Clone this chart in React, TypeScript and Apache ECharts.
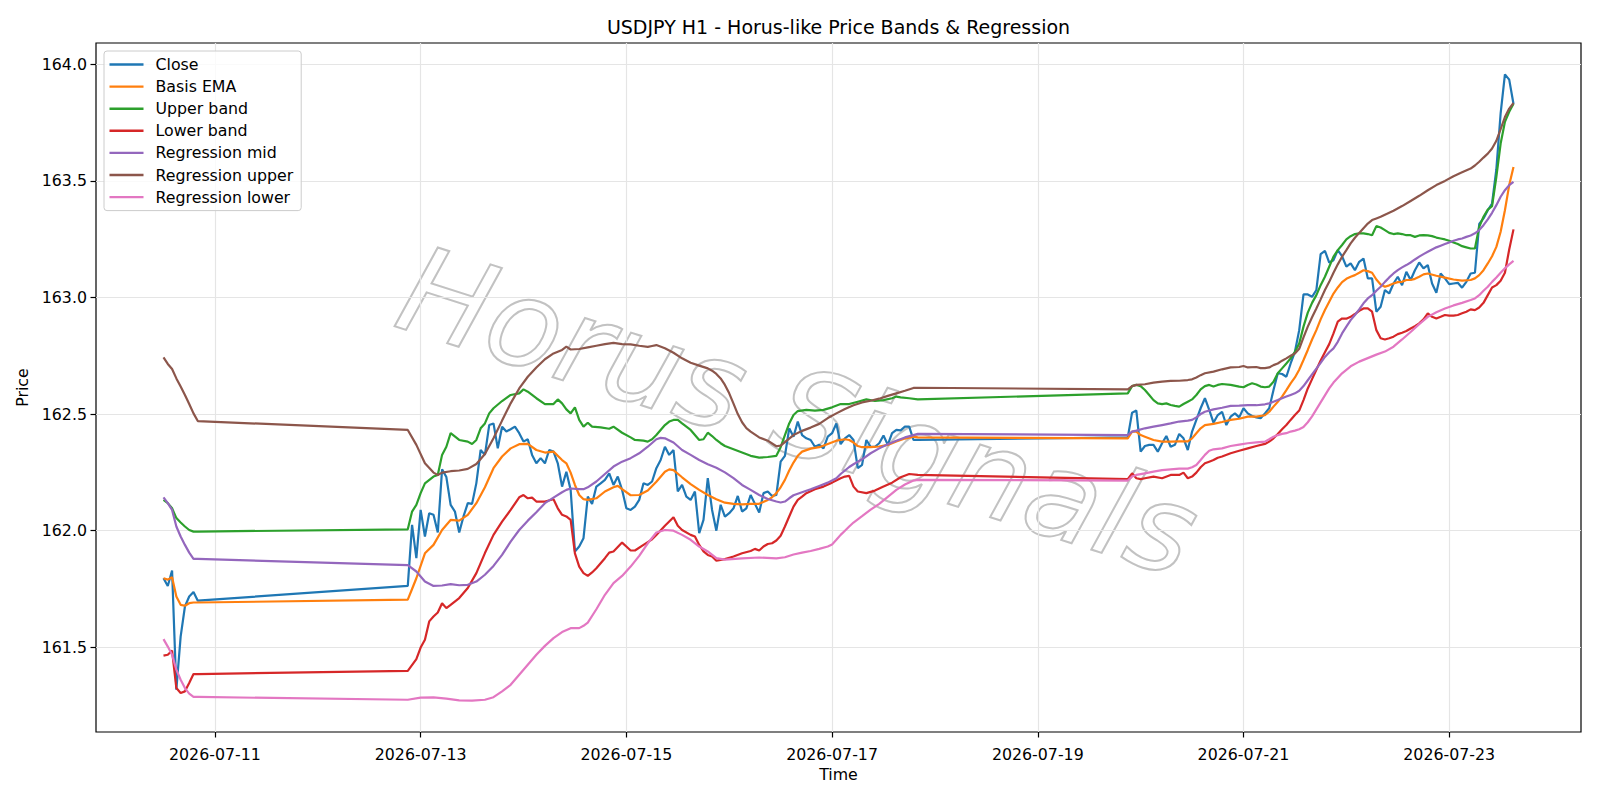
import React, { useEffect, useRef } from "react";
import * as echarts from "echarts";

// Trading sessions: start (UTC) and number of hourly bars
const sessions: [string, number][] = [
  ["2026-07-10T12:00:00Z", 9],
  ["2026-07-12T21:00:00Z", 120],
  ["2026-07-19T21:00:00Z", 91],
];

const xTickLabels = ["2026-07-11", "2026-07-13", "2026-07-15", "2026-07-17", "2026-07-19", "2026-07-21", "2026-07-23"];
const yTickValues = [161.5, 162.0, 162.5, 163.0, 163.5, 164.0];

// Close, hourly, all sessions in order
const close: number[] = [
  161.796, 161.763, 161.829, 161.318, 161.546, 161.675, 161.718, 161.737, 161.700,
  161.763, 162.025, 161.882, 162.089, 161.975, 162.075, 162.068, 161.992, 162.263, 162.230,
  162.111, 162.082, 161.992, 162.061, 162.118, 162.115, 162.204, 162.346, 162.325, 162.453,
  162.460, 162.353, 162.446, 162.425, 162.435, 162.446, 162.418, 162.382, 162.392, 162.325,
  162.289, 162.311, 162.289, 162.346, 162.339, 162.289, 162.189, 162.253, 162.175, 161.911,
  161.932, 161.968, 162.146, 162.115, 162.189, 162.203, 162.218, 162.246, 162.196, 162.232,
  162.175, 162.096, 162.089, 162.103, 162.132, 162.203, 162.196, 162.211, 162.268, 162.303,
  162.360, 162.325, 162.346, 162.168, 162.196, 162.146, 162.132, 162.168, 161.989, 162.046,
  162.225, 162.089, 162.000, 162.111, 162.060, 162.075, 162.096, 162.149, 162.082, 162.096,
  162.153, 162.115, 162.078, 162.161, 162.168, 162.149, 162.153, 162.296, 162.321, 162.439,
  162.403, 162.468, 162.410, 162.396, 162.389, 162.360, 162.368, 162.353, 162.403, 162.418,
  162.460, 162.371, 162.396, 162.410, 162.389, 162.268, 162.282, 162.389, 162.360, 162.360,
  162.375, 162.408, 162.368, 162.418, 162.432, 162.430, 162.446, 162.446, 162.389, 162.389,
  162.400, 162.506, 162.515, 162.339, 162.363, 162.368, 162.368, 162.339, 162.375, 162.406,
  162.360, 162.368, 162.415, 162.396, 162.346, 162.425, 162.475, 162.525, 162.568, 162.518,
  162.463, 162.496, 162.510, 162.453, 162.489, 162.503, 162.486, 162.525, 162.503, 162.492,
  162.486, 162.482, 162.503, 162.525, 162.603, 162.675, 162.672, 162.660, 162.717, 162.767,
  162.860, 163.013, 163.013, 163.003, 163.032, 163.186, 163.200, 163.150, 163.160, 163.203,
  163.177, 163.132, 163.146, 163.117, 163.153, 163.167, 163.082, 163.082, 162.939, 162.960,
  163.032, 163.017, 163.060, 163.089, 163.053, 163.110, 163.075, 163.117, 163.150, 163.125,
  163.139, 163.060, 163.020, 163.103, 163.082, 163.057, 163.060, 163.063, 163.042, 163.067,
  163.103, 163.106, 163.315, 163.339, 163.374, 163.403, 163.550, 163.790, 163.957, 163.934,
  163.830,
];

// [session, hour within session, price]
type P = [number, number, number];

const basisEma: P[] = [
  [0,0,161.796],[0,1,161.790],[0,2,161.800],[0,3,161.718],[0,4,161.682],[0,5,161.678],[0,6,161.689],[0,7,161.692],[0,8,161.692],
  [1,0,161.704],[1,1,161.750],[1,2,161.796],[1,4,161.903],[1,6,161.939],[1,8,162.003],[1,10,162.046],[1,12,162.043],[1,14,162.068],
  [1,16,162.118],[1,18,162.186],[1,20,162.268],[1,22,162.318],[1,24,162.353],[1,26,162.371],[1,28,162.372],[1,30,162.346],
  [1,32,162.335],[1,34,162.339],[1,36,162.303],[1,37,162.289],[1,38,162.249],[1,39,162.196],[1,40,162.153],[1,41,162.135],
  [1,42,162.132],[1,44,162.139],[1,46,162.168],[1,48,162.186],[1,49,162.192],[1,50,162.178],[1,52,162.152],[1,54,162.153],
  [1,56,162.172],[1,58,162.210],[1,60,162.253],[1,61,162.263],[1,62,162.260],[1,64,162.229],[1,66,162.200],[1,68,162.175],
  [1,70,162.153],[1,72,162.135],[1,74,162.120],[1,76,162.115],[1,78,162.113],[1,80,162.115],[1,82,162.115],[1,84,162.132],
  [1,85,162.143],[1,86,162.161],[1,87,162.186],[1,88,162.218],[1,89,162.258],[1,90,162.292],[1,91,162.321],[1,92,162.339],
  [1,94,162.352],[1,96,162.358],[1,98,162.372],[1,100,162.386],[1,102,162.392],[1,103,162.389],[1,104,162.378],[1,105,162.363],
  [1,106,162.358],[1,108,162.358],[1,110,162.361],[1,112,162.368],[1,114,162.383],[1,116,162.395],[1,118,162.403],[1,119,162.400],
  [2,0,162.396],[2,1,162.425],[2,2,162.425],[2,3,162.410],[2,4,162.403],[2,6,162.389],[2,8,162.382],[2,10,162.382],[2,12,162.383],
  [2,14,162.383],[2,15,162.396],[2,16,162.418],[2,17,162.439],[2,18,162.453],[2,20,162.458],[2,22,162.466],[2,24,162.475],
  [2,26,162.480],[2,28,162.489],[2,30,162.489],[2,32,162.495],[2,33,162.510],[2,34,162.532],[2,35,162.553],[2,36,162.575],
  [2,37,162.603],[2,38,162.632],[2,39,162.657],[2,40,162.690],[2,41,162.732],[2,42,162.775],[2,43,162.820],[2,44,162.860],
  [2,45,162.906],[2,46,162.946],[2,47,162.982],[2,48,163.017],[2,49,163.043],[2,50,163.066],[2,51,163.080],[2,52,163.089],
  [2,53,163.096],[2,54,163.106],[2,55,163.117],[2,56,163.113],[2,57,163.106],[2,58,163.077],[2,59,163.056],[2,60,163.046],
  [2,61,163.052],[2,62,163.060],[2,63,163.066],[2,64,163.067],[2,65,163.075],[2,66,163.075],[2,67,163.080],[2,68,163.089],
  [2,69,163.099],[2,70,163.103],[2,72,163.093],[2,74,163.085],[2,76,163.077],[2,78,163.072],[2,80,163.075],[2,81,163.082],
  [2,82,163.096],[2,83,163.117],[2,84,163.146],[2,85,163.177],[2,86,163.217],[2,87,163.282],[2,88,163.374],[2,89,163.482],[2,90,163.560],
];

const upperBand: P[] = [
  [0,0,162.132],[0,1,162.118],[0,2,162.096],[0,3,162.054],[0,4,162.035],[0,5,162.018],[0,6,162.003],[0,7,161.996],[0,8,161.996],
  [1,0,162.006],[1,1,162.082],[1,2,162.111],[1,3,162.161],[1,4,162.203],[1,6,162.232],[1,7,162.239],[1,8,162.325],[1,9,162.360],
  [1,10,162.418],[1,12,162.389],[1,14,162.382],[1,15,162.372],[1,16,162.389],[1,17,162.439],[1,18,162.460],[1,19,162.503],
  [1,20,162.525],[1,22,162.556],[1,24,162.582],[1,26,162.589],[1,27,162.606],[1,28,162.596],[1,30,162.568],[1,32,162.543],
  [1,34,162.543],[1,35,162.563],[1,36,162.546],[1,37,162.520],[1,38,162.503],[1,39,162.529],[1,40,162.475],[1,41,162.446],
  [1,42,162.463],[1,43,162.446],[1,45,162.443],[1,47,162.437],[1,48,162.446],[1,50,162.420],[1,52,162.400],[1,53,162.389],
  [1,55,162.386],[1,56,162.382],[1,57,162.392],[1,58,162.410],[1,59,162.432],[1,60,162.453],[1,61,162.468],[1,62,162.475],
  [1,63,162.475],[1,64,162.460],[1,66,162.432],[1,68,162.389],[1,69,162.392],[1,70,162.420],[1,71,162.406],[1,72,162.389],
  [1,73,162.375],[1,74,162.363],[1,76,162.349],[1,78,162.335],[1,80,162.321],[1,82,162.313],[1,84,162.316],[1,86,162.321],
  [1,87,162.358],[1,88,162.410],[1,89,162.460],[1,90,162.496],[1,91,162.513],[1,93,162.518],[1,95,162.515],[1,97,162.518],
  [1,99,162.529],[1,101,162.543],[1,103,162.543],[1,105,162.553],[1,107,162.563],[1,109,162.556],[1,111,162.560],[1,113,162.568],
  [1,114,162.575],[1,115,162.572],[1,117,162.568],[1,119,162.563],
  [2,0,162.589],[2,1,162.620],[2,2,162.625],[2,3,162.620],[2,4,162.603],[2,5,162.582],[2,6,162.560],[2,7,162.546],[2,8,162.543],
  [2,9,162.546],[2,10,162.539],[2,11,162.535],[2,12,162.532],[2,13,162.543],[2,14,162.553],[2,15,162.563],[2,16,162.582],
  [2,17,162.606],[2,18,162.620],[2,19,162.625],[2,20,162.618],[2,21,162.625],[2,22,162.629],[2,24,162.625],[2,26,162.618],
  [2,27,162.615],[2,28,162.625],[2,29,162.632],[2,30,162.627],[2,31,162.618],[2,32,162.615],[2,33,162.618],[2,34,162.639],
  [2,35,162.675],[2,36,162.696],[2,37,162.717],[2,38,162.739],[2,39,162.767],[2,40,162.803],[2,41,162.875],[2,42,162.935],
  [2,43,162.977],[2,44,163.010],[2,45,163.053],[2,46,163.089],[2,47,163.132],[2,48,163.175],[2,49,163.203],[2,50,163.225],
  [2,51,163.249],[2,52,163.263],[2,53,163.272],[2,54,163.275],[2,55,163.275],[2,56,163.272],[2,57,163.267],[2,58,163.306],
  [2,59,163.300],[2,60,163.289],[2,61,163.277],[2,62,163.272],[2,63,163.275],[2,64,163.272],[2,65,163.267],[2,66,163.267],
  [2,67,163.260],[2,68,163.266],[2,69,163.267],[2,70,163.266],[2,71,163.263],[2,72,163.257],[2,73,163.253],[2,74,163.249],
  [2,75,163.243],[2,76,163.236],[2,77,163.229],[2,78,163.220],[2,79,163.215],[2,80,163.210],[2,81,163.210],[2,82,163.303],
  [2,83,163.346],[2,84,163.377],[2,85,163.392],[2,86,163.517],[2,87,163.660],[2,88,163.753],[2,89,163.796],[2,90,163.831],
];

const lowerBand: P[] = [
  [0,0,161.464],[0,1,161.468],[0,2,161.486],[0,3,161.325],[0,4,161.304],[0,5,161.311],[0,6,161.347],[0,7,161.385],[0,8,161.385],
  [1,0,161.399],[1,2,161.449],[1,3,161.499],[1,4,161.532],[1,5,161.611],[1,6,161.632],[1,7,161.649],[1,8,161.689],[1,9,161.668],
  [1,10,161.682],[1,12,161.711],[1,14,161.754],[1,16,161.818],[1,18,161.904],[1,20,161.982],[1,22,162.039],[1,24,162.089],
  [1,26,162.143],[1,27,162.153],[1,28,162.139],[1,29,162.142],[1,30,162.125],[1,32,162.125],[1,34,162.135],[1,35,162.096],
  [1,36,162.068],[1,37,162.061],[1,38,162.046],[1,39,161.903],[1,40,161.846],[1,41,161.818],[1,42,161.806],[1,43,161.821],
  [1,44,161.839],[1,46,161.882],[1,47,161.906],[1,48,161.911],[1,50,161.949],[1,51,161.932],[1,52,161.915],[1,53,161.915],
  [1,55,161.939],[1,57,161.963],[1,58,161.982],[1,60,162.021],[1,62,162.058],[1,63,162.021],[1,64,162.003],[1,66,161.982],
  [1,67,161.975],[1,68,161.939],[1,69,161.911],[1,70,161.896],[1,71,161.889],[1,72,161.871],[1,73,161.875],[1,74,161.878],
  [1,76,161.889],[1,78,161.903],[1,80,161.913],[1,81,161.922],[1,82,161.915],[1,83,161.932],[1,84,161.943],[1,85,161.946],
  [1,86,161.958],[1,87,161.978],[1,88,162.018],[1,89,162.061],[1,90,162.103],[1,91,162.132],[1,92,162.146],[1,93,162.161],
  [1,95,162.178],[1,97,162.189],[1,99,162.206],[1,101,162.225],[1,102,162.232],[1,103,162.235],[1,104,162.189],[1,105,162.168],
  [1,107,162.161],[1,109,162.172],[1,111,162.189],[1,113,162.206],[1,115,162.229],[1,117,162.243],[1,119,162.239],
  [2,0,162.221],[2,1,162.246],[2,2,162.225],[2,3,162.221],[2,4,162.225],[2,6,162.232],[2,8,162.225],[2,10,162.239],[2,12,162.239],
  [2,13,162.249],[2,14,162.225],[2,15,162.232],[2,16,162.249],[2,17,162.272],[2,18,162.289],[2,19,162.296],[2,20,162.303],
  [2,21,162.313],[2,22,162.318],[2,24,162.332],[2,26,162.343],[2,28,162.353],[2,30,162.363],[2,32,162.372],[2,33,162.382],
  [2,34,162.396],[2,35,162.415],[2,36,162.435],[2,37,162.453],[2,38,162.475],[2,39,162.496],[2,40,162.515],[2,41,162.560],
  [2,42,162.610],[2,43,162.650],[2,44,162.690],[2,45,162.730],[2,46,162.765],[2,47,162.800],[2,48,162.846],[2,49,162.896],
  [2,50,162.910],[2,51,162.909],[2,52,162.917],[2,53,162.929],[2,54,162.943],[2,55,162.953],[2,56,162.953],[2,57,162.939],
  [2,58,162.860],[2,59,162.825],[2,60,162.820],[2,61,162.825],[2,62,162.832],[2,63,162.843],[2,64,162.849],[2,65,162.856],
  [2,66,162.867],[2,67,162.877],[2,68,162.889],[2,69,162.906],[2,70,162.932],[2,71,162.917],[2,72,162.910],[2,73,162.917],
  [2,74,162.925],[2,75,162.922],[2,76,162.922],[2,77,162.925],[2,78,162.932],[2,79,162.939],[2,80,162.949],[2,81,162.946],
  [2,82,162.957],[2,83,162.977],[2,84,163.010],[2,85,163.043],[2,86,163.053],[2,87,163.072],[2,88,163.106],[2,89,163.206],[2,90,163.292],
];

const regMid: P[] = [
  [0,0,162.143],[0,1,162.118],[0,2,162.089],[0,3,162.018],[0,4,161.975],[0,5,161.939],[0,6,161.906],[0,7,161.879],[0,8,161.879],
  [1,0,161.852],[1,2,161.825],[1,4,161.782],[1,6,161.763],[1,8,161.765],[1,10,161.771],[1,12,161.766],[1,14,161.768],[1,16,161.782],
  [1,18,161.811],[1,20,161.849],[1,22,161.896],[1,24,161.953],[1,26,162.003],[1,28,162.043],[1,30,162.079],[1,32,162.118],
  [1,34,162.142],[1,36,162.165],[1,37,162.175],[1,38,162.181],[1,40,162.178],[1,41,162.178],[1,42,162.186],[1,44,162.211],
  [1,46,162.243],[1,48,162.275],[1,50,162.296],[1,52,162.311],[1,54,162.332],[1,56,162.360],[1,58,162.392],[1,59,162.398],
  [1,60,162.396],[1,62,162.378],[1,64,162.346],[1,66,162.325],[1,68,162.303],[1,70,162.285],[1,72,162.270],[1,74,162.250],
  [1,76,162.225],[1,78,162.196],[1,80,162.175],[1,82,162.153],[1,84,162.136],[1,86,162.125],[1,87,162.121],[1,88,162.125],
  [1,89,162.139],[1,90,162.152],[1,92,162.165],[1,94,162.178],[1,96,162.192],[1,98,162.206],[1,100,162.225],[1,101,162.243],
  [1,102,162.258],[1,103,162.273],[1,104,162.285],[1,106,162.306],[1,108,162.332],[1,110,162.353],[1,112,162.371],[1,114,162.386],
  [1,116,162.400],[1,118,162.410],[1,119,162.415],
  [2,0,162.410],[2,1,162.425],[2,2,162.429],[2,4,162.439],[2,6,162.446],[2,8,162.453],[2,10,162.460],[2,12,162.468],[2,14,162.472],
  [2,15,162.475],[2,16,162.486],[2,17,162.500],[2,18,162.510],[2,20,162.520],[2,22,162.527],[2,24,162.535],[2,26,162.536],
  [2,28,162.538],[2,30,162.538],[2,32,162.542],[2,33,162.546],[2,34,162.553],[2,35,162.560],[2,36,162.568],[2,37,162.575],
  [2,38,162.582],[2,39,162.589],[2,40,162.600],[2,41,162.620],[2,42,162.645],[2,43,162.670],[2,44,162.695],[2,45,162.720],
  [2,46,162.745],[2,47,162.765],[2,48,162.782],[2,49,162.810],[2,50,162.846],[2,51,162.875],[2,52,162.903],[2,53,162.925],
  [2,54,162.949],[2,55,162.975],[2,56,162.996],[2,57,163.010],[2,58,163.029],[2,59,163.046],[2,60,163.067],[2,61,163.086],
  [2,62,163.103],[2,63,163.117],[2,64,163.129],[2,65,163.139],[2,66,163.150],[2,67,163.163],[2,68,163.175],[2,69,163.186],
  [2,70,163.196],[2,71,163.206],[2,72,163.215],[2,73,163.222],[2,74,163.229],[2,75,163.236],[2,76,163.243],[2,77,163.249],
  [2,78,163.253],[2,79,163.260],[2,80,163.266],[2,81,163.275],[2,82,163.289],[2,83,163.310],[2,84,163.335],[2,85,163.363],
  [2,86,163.396],[2,87,163.432],[2,88,163.460],[2,89,163.482],[2,90,163.496],
];

const regUpper: P[] = [
  [0,0,162.743],[0,1,162.715],[0,2,162.693],[0,3,162.653],[0,4,162.618],[0,5,162.582],[0,6,162.543],[0,7,162.503],[0,8,162.470],
  [1,0,162.432],[1,2,162.368],[1,4,162.289],[1,6,162.249],[1,7,162.239],[1,8,162.249],[1,10,162.255],[1,12,162.258],[1,14,162.265],
  [1,16,162.286],[1,18,162.329],[1,20,162.396],[1,22,162.472],[1,24,162.546],[1,26,162.610],[1,28,162.660],[1,30,162.700],
  [1,32,162.735],[1,34,162.760],[1,36,162.775],[1,37,162.789],[1,38,162.777],[1,40,162.779],[1,42,162.786],[1,44,162.793],
  [1,46,162.800],[1,48,162.805],[1,50,162.800],[1,52,162.799],[1,54,162.793],[1,56,162.788],[1,57,162.792],[1,58,162.796],
  [1,60,162.782],[1,62,162.763],[1,64,162.739],[1,66,162.720],[1,68,162.708],[1,70,162.696],[1,71,162.686],[1,72,162.672],
  [1,73,162.653],[1,74,162.625],[1,75,162.589],[1,76,162.545],[1,77,162.500],[1,78,162.465],[1,79,162.440],[1,80,162.425],
  [1,82,162.400],[1,84,162.386],[1,86,162.362],[1,87,162.365],[1,88,162.380],[1,89,162.395],[1,90,162.410],[1,92,162.428],
  [1,94,162.442],[1,96,162.458],[1,98,162.483],[1,100,162.503],[1,102,162.522],[1,104,162.538],[1,106,162.550],[1,108,162.557],
  [1,110,162.566],[1,112,162.578],[1,114,162.589],[1,116,162.600],[1,118,162.612],[1,119,162.613],
  [2,0,162.606],[2,1,162.620],[2,2,162.625],[2,4,162.628],[2,6,162.635],[2,8,162.639],[2,10,162.642],[2,12,162.643],[2,14,162.646],
  [2,15,162.649],[2,16,162.657],[2,17,162.667],[2,18,162.675],[2,20,162.682],[2,22,162.692],[2,24,162.700],[2,26,162.702],
  [2,27,162.706],[2,28,162.700],[2,30,162.702],[2,31,162.697],[2,32,162.697],[2,33,162.700],[2,34,162.710],[2,35,162.717],
  [2,36,162.729],[2,37,162.739],[2,38,162.750],[2,39,162.760],[2,40,162.780],[2,41,162.829],[2,42,162.875],[2,43,162.915],
  [2,44,162.953],[2,45,162.992],[2,46,163.032],[2,47,163.067],[2,48,163.106],[2,49,163.142],[2,50,163.175],[2,51,163.203],
  [2,52,163.232],[2,53,163.256],[2,54,163.277],[2,55,163.297],[2,56,163.317],[2,57,163.332],[2,58,163.339],[2,59,163.346],
  [2,60,163.355],[2,62,163.372],[2,64,163.392],[2,66,163.414],[2,68,163.436],[2,70,163.460],[2,72,163.482],[2,74,163.500],
  [2,76,163.520],[2,78,163.537],[2,80,163.553],[2,81,163.566],[2,82,163.582],[2,83,163.600],[2,84,163.617],[2,85,163.639],
  [2,86,163.672],[2,87,163.722],[2,88,163.774],[2,89,163.810],[2,90,163.834],
];

const regLower: P[] = [
  [0,0,161.535],[0,1,161.503],[0,2,161.468],[0,3,161.404],[0,4,161.361],[0,5,161.325],[0,6,161.301],[0,7,161.287],[0,8,161.287],
  [1,0,161.275],[1,3,161.284],[1,6,161.285],[1,9,161.280],[1,12,161.272],[1,15,161.271],[1,18,161.275],[1,20,161.286],
  [1,22,161.311],[1,24,161.339],[1,26,161.382],[1,28,161.425],[1,30,161.468],[1,32,161.506],[1,34,161.539],[1,36,161.565],
  [1,38,161.582],[1,40,161.582],[1,41,161.592],[1,42,161.606],[1,44,161.663],[1,46,161.725],[1,48,161.775],[1,50,161.806],
  [1,52,161.846],[1,54,161.892],[1,56,161.946],[1,58,161.992],[1,60,162.003],[1,62,162.000],[1,64,161.982],[1,66,161.961],
  [1,68,161.932],[1,70,161.911],[1,72,161.882],[1,74,161.876],[1,78,161.881],[1,82,161.885],[1,86,161.881],[1,88,161.886],
  [1,90,161.898],[1,92,161.906],[1,94,161.913],[1,96,161.922],[1,98,161.932],[1,99,161.941],[1,100,161.961],[1,101,161.982],
  [1,102,162.000],[1,103,162.018],[1,104,162.035],[1,106,162.062],[1,108,162.090],[1,110,162.115],[1,112,162.145],[1,114,162.175],
  [1,116,162.198],[1,118,162.215],[1,119,162.218],
  [2,0,162.215],[2,1,162.232],[2,2,162.239],[2,4,162.246],[2,6,162.253],[2,8,162.260],[2,10,162.263],[2,12,162.266],[2,14,162.266],
  [2,15,162.272],[2,16,162.282],[2,17,162.303],[2,18,162.325],[2,19,162.343],[2,20,162.349],[2,22,162.353],[2,24,162.363],
  [2,26,162.369],[2,28,162.375],[2,30,162.379],[2,32,162.382],[2,33,162.392],[2,34,162.403],[2,35,162.410],[2,36,162.415],
  [2,37,162.418],[2,38,162.425],[2,39,162.429],[2,40,162.435],[2,41,162.445],[2,42,162.465],[2,43,162.490],[2,44,162.520],
  [2,45,162.550],[2,46,162.580],[2,47,162.610],[2,48,162.635],[2,50,162.675],[2,52,162.705],[2,54,162.725],[2,56,162.740],
  [2,58,162.755],[2,60,162.768],[2,62,162.789],[2,64,162.820],[2,66,162.852],[2,68,162.886],[2,70,162.917],[2,72,162.937],
  [2,74,162.953],[2,76,162.966],[2,78,162.977],[2,80,162.989],[2,81,162.996],[2,82,163.010],[2,83,163.029],[2,84,163.046],
  [2,85,163.067],[2,86,163.086],[2,87,163.106],[2,88,163.125],[2,89,163.142],[2,90,163.157],
];

const seriesDefs: { name: string; color: string; pts?: P[] }[] = [
  { name: "Close", color: "#1f77b4" },
  { name: "Basis EMA", color: "#ff7f0e", pts: basisEma },
  { name: "Upper band", color: "#2ca02c", pts: upperBand },
  { name: "Lower band", color: "#d62728", pts: lowerBand },
  { name: "Regression mid", color: "#9467bd", pts: regMid },
  { name: "Regression upper", color: "#8c564b", pts: regUpper },
  { name: "Regression lower", color: "#e377c2", pts: regLower },
];

const ORIGIN = Date.UTC(2026, 6, 9);
const HOUR = 3600000;
const toHours = (iso: string) => (Date.parse(iso) - ORIGIN) / HOUR;
const sessionStart = sessions.map(([s]) => toHours(s));
const times: number[] = [];
sessions.forEach(([, n], si) => {
  for (let i = 0; i < n; i++) times.push(sessionStart[si] + i);
});
const xTickValues = xTickLabels.map((d) => toHours(d + "T00:00:00Z"));

const FONT = "DejaVu Sans";

export default function App() {
  const ref = useRef<HTMLDivElement>(null);
  useEffect(() => {
    if (!ref.current) return;
    const chart = echarts.init(ref.current, undefined, { renderer: "svg" });

    const seriesData = seriesDefs.map((d) =>
      d.pts
        ? d.pts.map(([s, h, v]) => [sessionStart[s] + h, v])
        : close.map((v, i) => [times[i], v])
    );
    const allY = seriesData.flat().map((p) => p[1] as number);
    const yLo = Math.min(...allY);
    const yHi = Math.max(...allY);
    const yPad = (yHi - yLo) * 0.05;
    const xLo = times[0];
    const xHi = times[times.length - 1];
    const xPad = (xHi - xLo) * 0.05;

    const labelFor = (v: number) => {
      const idx = xTickValues.findIndex((t) => Math.abs(t - v) < 1e-6);
      return idx >= 0 ? xTickLabels[idx] : "";
    };

    chart.setOption({
      animation: false,
      backgroundColor: "#ffffff",
      textStyle: { fontFamily: FONT },
      grid: {
        left: 96,
        right: 19,
        top: 43,
        bottom: 68,
        show: true,
        borderColor: "#000000",
        borderWidth: 1.2,
        backgroundColor: "transparent",
      },
      graphic: [
        {
          type: "text",
          x: 838.5,
          y: 26.5,
          z: 10,
          style: {
            text: "USDJPY H1 - Horus-like Price Bands & Regression",
            fontFamily: FONT,
            fontSize: 19,
            fill: "#000000",
            textAlign: "center",
            textVerticalAlign: "middle",
            align: "center",
            verticalAlign: "middle",
          },
        },
        {
          type: "text",
          x: 798,
          y: 412,
          rotation: -0.31,
          z: 0,
          silent: true,
          style: {
            text: "Horus Signals",
            fontFamily: FONT,
            fontStyle: "italic",
            fontSize: 121,
            fill: "rgba(255,255,255,0)",
            stroke: "#c2c2c2",
            lineWidth: 2,
            shadowColor: "rgba(0,0,0,0.18)",
            shadowOffsetX: 2,
            shadowOffsetY: 2,
            shadowBlur: 1,
            textAlign: "center",
            textVerticalAlign: "middle",
            align: "center",
            verticalAlign: "middle",
          },
        },
      ],
      legend: {
        orient: "vertical",
        left: 104,
        top: 51,
        icon: "rect",
        itemWidth: 34,
        itemHeight: 2.4,
        itemGap: 6.1,
        padding: [5.5, 8, 5.5, 5.5],
        backgroundColor: "rgba(255,255,255,0.8)",
        borderColor: "#cccccc",
        borderWidth: 1,
        borderRadius: 3,
        selectedMode: false,
        textStyle: { fontFamily: FONT, fontSize: 15.8, color: "#000000", padding: [0, 0, 0, 7] },
        data: seriesDefs.map((d) => ({ name: d.name, icon: "rect", itemStyle: { color: d.color } })),
      },
      xAxis: {
        type: "value",
        min: xLo - xPad,
        max: xHi + xPad,
        minInterval: 48,
        maxInterval: 48,
        name: "Time",
        nameLocation: "middle",
        nameGap: 28,
        nameTextStyle: { fontFamily: FONT, fontSize: 15.8, color: "#000000" },
        axisLine: { show: false },
        axisTick: {
          show: true,
          inside: false,
          length: 5.5,
          lineStyle: { color: "#000000", width: 1.2 },
          customValues: xTickValues,
        },
        axisLabel: {
          show: true,
          margin: 14,
          fontFamily: FONT,
          fontSize: 15.8,
          color: "#000000",
          customValues: xTickValues,
          showMinLabel: true,
          showMaxLabel: true,
          formatter: (v: number) => labelFor(v),
        },
        splitLine: { show: true, lineStyle: { color: "#e5e5e5", width: 1.2 } },
      },
      yAxis: {
        type: "value",
        min: yLo - yPad,
        max: yHi + yPad,
        minInterval: 0.5,
        maxInterval: 0.5,
        name: "Price",
        nameLocation: "middle",
        nameGap: 53,
        nameTextStyle: { fontFamily: FONT, fontSize: 15.8, color: "#000000" },
        axisLine: { show: false },
        axisTick: {
          show: true,
          inside: false,
          length: 5.5,
          lineStyle: { color: "#000000", width: 1.2 },
          customValues: yTickValues,
        },
        axisLabel: {
          show: true,
          margin: 9,
          fontFamily: FONT,
          fontSize: 15.8,
          color: "#000000",
          customValues: yTickValues,
          showMinLabel: true,
          showMaxLabel: true,
          formatter: (v: number) =>
            yTickValues.some((t) => Math.abs(t - v) < 1e-6) ? v.toFixed(1) : "",
        },
        splitLine: { show: true, lineStyle: { color: "#e5e5e5", width: 1.2 } },
      },
      series: seriesDefs.map((d, i) => ({
        name: d.name,
        type: "line",
        data: seriesData[i],
        symbol: "none",
        showSymbol: false,
        smooth: false,
        z: 3,
        lineStyle: { color: d.color, width: 2.2 },
        itemStyle: { color: d.color },
      })),
    });
    return () => chart.dispose();
  }, []);

  return (
    <div
      ref={ref}
      style={{ position: "fixed", left: 0, top: 0, width: 1600, height: 800 }}
    />
  );
}
